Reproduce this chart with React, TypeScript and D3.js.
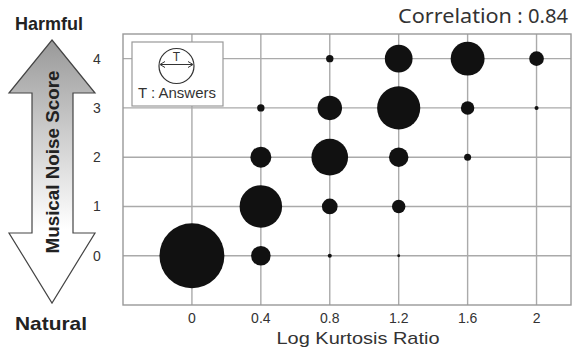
import React from "react";
import * as d3 from "d3";

const xTicks = [0, 0.4, 0.8, 1.2, 1.6, 2];
const yTicks = [0, 1, 2, 3, 4];
const xTickLabels = ["0", "0.4", "0.8", "1.2", "1.6", "2"];

// bubble data: log kurtosis ratio, musical noise score, number of answers
const bubbleX = [0, 0.4, 0.4, 0.4, 0.4, 0.8, 0.8, 0.8, 0.8, 0.8, 1.2, 1.2, 1.2, 1.2, 1.2, 1.6, 1.6, 1.6, 2, 2];
const bubbleY = [0, 0, 1, 2, 3, 0, 1, 2, 3, 4, 0, 1, 2, 3, 4, 2, 3, 4, 3, 4];
const bubbleAnswers = [77, 7, 33, 8, 1, 0.3, 4.5, 24.5, 11, 1, 0.15, 3.3, 6.9, 34, 14, 0.9, 3.3, 21, 0.3, 3.9];

const W = 574;
const H = 354;

export default function App() {
  const x = d3.scaleLinear().domain([-0.4, 2.2]).range([123, 571]);
  const y = d3.scaleLinear().domain([-1, 4.5]).range([305, 34]);
  const r = d3.scaleSqrt().domain([0, 100]).range([0, 37]);

  const arrowPts: [number, number][] = [
    [52, 40], [95, 93], [73, 93], [73, 233], [95, 233], [52, 303],
    [9, 233], [32, 233], [32, 93], [9, 93],
  ];
  const arrowPath = d3.line()(arrowPts) + "Z";

  const sans = "'Liberation Sans', Arial, sans-serif";
  const corrFont = "'Noto Sans', 'Open Sans', sans-serif";

  return (
    <svg width={W} height={H} style={{ position: "absolute", left: 0, top: 0, background: "#fff" }}>
      <defs>
        <linearGradient id="arrowGrad" x1="0" y1="0" x2="0" y2="1">
          <stop offset="0" stopColor="#999999" />
          <stop offset="0.35" stopColor="#cccccc" />
          <stop offset="0.72" stopColor="#ffffff" />
          <stop offset="1" stopColor="#ffffff" />
        </linearGradient>
      </defs>
      <rect x={0} y={0} width={W} height={H} fill="#fff" />

      {/* left arrow */}
      <path d={arrowPath} fill="url(#arrowGrad)" stroke="#444" strokeWidth={1.2} strokeLinejoin="miter" />
      <text x={49} y={30} textAnchor="middle" fontFamily={sans} fontWeight="bold" fontSize={19}
        textLength={68} lengthAdjust="spacingAndGlyphs" fill="#222">Harmful</text>
      <text x={51} y={330} textAnchor="middle" fontFamily={sans} fontWeight="bold" fontSize={19}
        textLength={72} lengthAdjust="spacingAndGlyphs" fill="#222">Natural</text>
      <text transform="translate(59,162) rotate(-90)" textAnchor="middle" fontFamily={sans} fontWeight="bold"
        fontSize={19} textLength={183} lengthAdjust="spacingAndGlyphs" fill="#222">Musical Noise Score</text>

      {/* grid */}
      {xTicks.map((t) => (
        <line key={"vx" + t} x1={x(t)} x2={x(t)} y1={y(4.5)} y2={y(-1)} stroke="#aaa" strokeWidth={1.4} />
      ))}
      {yTicks.map((t) => (
        <line key={"hy" + t} x1={x(-0.4)} x2={x(2.2)} y1={y(t)} y2={y(t)} stroke="#aaa" strokeWidth={1.4} />
      ))}
      <rect x={x(-0.4)} y={y(4.5)} width={x(2.2) - x(-0.4)} height={y(-1) - y(4.5)} fill="none" stroke="#999" strokeWidth={1.4} />

      {/* tick labels */}
      {yTicks.map((t) => (
        <text key={"yl" + t} x={97} y={y(t) + 5} textAnchor="middle" fontFamily={sans} fontSize={14} fill="#333">{t}</text>
      ))}
      {xTicks.map((t, i) => (
        <text key={"xl" + t} x={x(t)} y={323} textAnchor="middle" fontFamily={sans} fontSize={14} fill="#333">{xTickLabels[i]}</text>
      ))}
      <text x={358} y={344} textAnchor="middle" fontFamily={sans} fontSize={17} textLength={163}
        lengthAdjust="spacingAndGlyphs" fill="#333">Log Kurtosis Ratio</text>

      {/* legend */}
      <rect x={132} y={42} width={91} height={64} fill="#fff" stroke="#999" strokeWidth={1.2} />
      <circle cx={176.5} cy={66} r={17.5} fill="#fff" stroke="#333" strokeWidth={1.2} />
      <line x1={161} x2={192} y1={64.5} y2={64.5} stroke="#333" strokeWidth={1} />
      <path d="M165,61.5 L160,64.5 L165,67.5" fill="none" stroke="#333" strokeWidth={1} />
      <path d="M188,61.5 L193,64.5 L188,67.5" fill="none" stroke="#333" strokeWidth={1} />
      <text x={176.5} y={61} textAnchor="middle" fontFamily={sans} fontSize={12} fill="#333">T</text>
      <text x={177} y={98} textAnchor="middle" fontFamily={sans} fontSize={15} textLength={78}
        lengthAdjust="spacingAndGlyphs" fill="#333">T : Answers</text>

      {/* bubbles */}
      {bubbleX.map((bx, i) => (
        <circle key={"b" + i} cx={x(bx)} cy={y(bubbleY[i])} r={r(bubbleAnswers[i])} fill="#111" />
      ))}

      {/* correlation */}
      <text x={398} y={23} fontFamily={corrFont} fontSize={20} textLength={114}
        lengthAdjust="spacingAndGlyphs" fill="#333">Correlation</text>
      <text x={520} y={23} textAnchor="middle" fontFamily={corrFont} fontSize={20} fill="#333">:</text>
      <text x={528} y={23} fontFamily={corrFont} fontSize={20} textLength={40}
        lengthAdjust="spacingAndGlyphs" fill="#333">0.84</text>
    </svg>
  );
}
